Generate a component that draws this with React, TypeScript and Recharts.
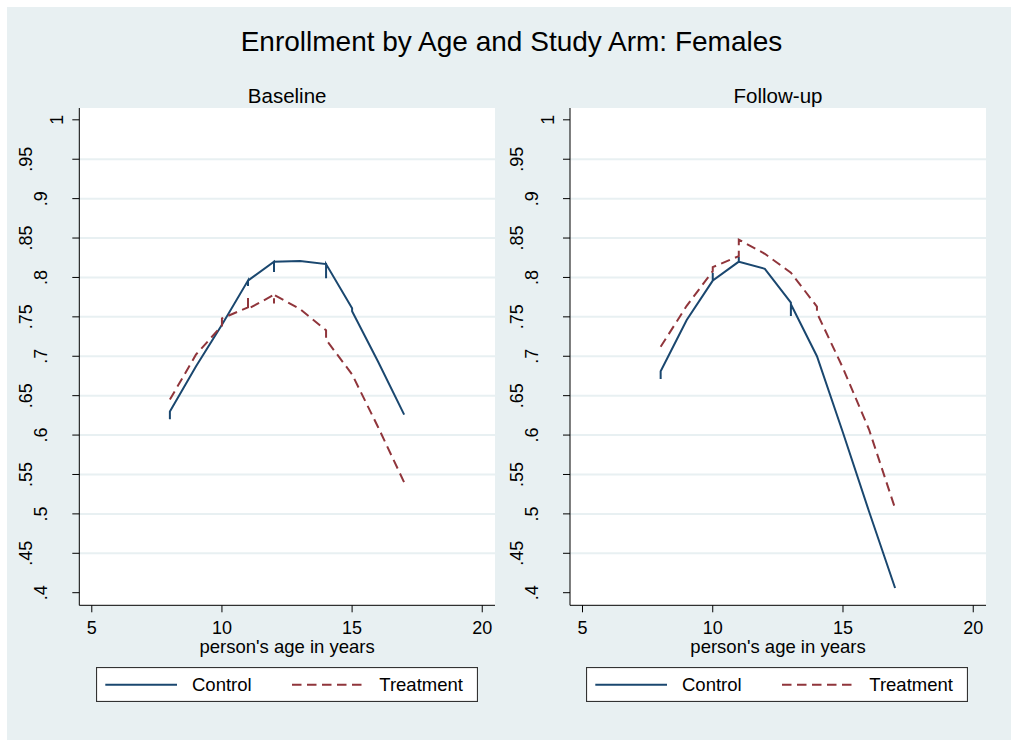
import { LineChart, Line, XAxis, YAxis, CartesianGrid } from "recharts"

const BG = "#E8F0F2"
const CONTROL = "#1A476F"
const TREATMENT = "#90353B"
const FONT = '"Liberation Sans", Arial, Helvetica, sans-serif'

const title = "Enrollment by Age and Study Arm: Females"
const panelTitles = ["Baseline", "Follow-up"]
const xLabel = "person's age in years"
const seriesNames = ["Control", "Treatment"]

const xTicks = [5, 10, 15, 20]
const yTicks = [0.4, 0.45, 0.5, 0.55, 0.6, 0.65, 0.7, 0.75, 0.8, 0.85, 0.9, 0.95, 1]
const gridValues = [0.45, 0.5, 0.55, 0.6, 0.65, 0.7, 0.75, 0.8, 0.85, 0.9, 0.95]

// baseline, several obs per age give the little vertical spikes
const baseControlAge = [8, 8, 9, 10, 11, 11, 11, 12, 12, 12, 13, 14, 14, 14, 15, 15, 16, 17]
const baseControlRate = [0.62, 0.63, 0.687, 0.74, 0.796, 0.789, 0.796, 0.82, 0.807, 0.82, 0.821, 0.817, 0.799, 0.817, 0.761, 0.757, 0.693, 0.626]
const baseTreatAge = [8, 9, 10, 10, 11, 11, 11, 12, 12, 12, 13, 14, 14, 15, 16, 17]
const baseTreatRate = [0.645, 0.702, 0.739, 0.748, 0.762, 0.774, 0.76, 0.778, 0.767, 0.778, 0.76, 0.733, 0.721, 0.677, 0.61, 0.54]

// follow-up
const followControlAge = [8, 8, 9, 10, 10, 10, 11, 11, 11, 12, 13, 13, 13, 14, 15, 16, 17]
const followControlRate = [0.671, 0.681, 0.746, 0.796, 0.806, 0.796, 0.82, 0.826, 0.82, 0.811, 0.768, 0.751, 0.766, 0.7, 0.603, 0.503, 0.406]
const followTreatAge = [8, 9, 10, 10, 11, 11, 12, 13, 14, 14, 15, 16, 17]
const followTreatRate = [0.712, 0.764, 0.808, 0.813, 0.827, 0.848, 0.83, 0.806, 0.763, 0.755, 0.685, 0.607, 0.507]

const pts = (ages: number[], rates: number[]) => ages.map((age, i) => ({ age, rate: rates[i] }))

const fmtY = (v: number) => (v === 1 ? "1" : v.toFixed(2).replace(/0+$/, "").replace(/^0/, ""))

const PANEL_W = 500
const PANEL_H = 733
const Y_AXIS_W = 60
const X_AXIS_H = 30
const TOP = 101
const BOTTOM = 104.7

function YTick(props: any) {
  const { y, payload, axisX } = props
  const label = fmtY(payload.value)
  const off = label.length === 1 ? 22.6 : label.length === 2 ? 38.8 : 53.6
  return (
    <text
      transform={`translate(${axisX - off},${y}) rotate(-90)`}
      x={0}
      y={6.4}
      textAnchor="middle"
      fontSize={18}
      fontFamily={FONT}
      fill="#000"
    >
      {label}
    </text>
  )
}

function XTick(props: any) {
  const { x, payload, axisY } = props
  return (
    <text x={x} y={axisY + 28.6} textAnchor="middle" fontSize={18} fontFamily={FONT} fill="#000">
      {payload.value}
    </text>
  )
}

function Legend({ left }: { left: number }) {
  return (
    <svg width={382} height={35} style={{ position: "absolute", left, top: 660.3 }}>
      <rect x={0.5} y={0.5} width={381} height={34} fill="#fff" stroke="#333" strokeWidth={1.2} />
      <line x1={9.3} x2={81} y1={17.7} y2={17.7} stroke={CONTROL} strokeWidth={2} />
      <text x={96} y={24.3} fontSize={18.5} fontFamily={FONT} fill="#000">{seriesNames[0]}</text>
      <line x1={196} x2={266} y1={17.7} y2={17.7} stroke={TREATMENT} strokeWidth={2} strokeDasharray="9.5 5.5" />
      <text x={283.3} y={24.3} fontSize={18.5} fontFamily={FONT} fill="#000">{seriesNames[1]}</text>
    </svg>
  )
}

type PanelProps = {
  x: number
  ml: number
  mr: number
  name: string
  control: { age: number; rate: number }[]
  treat: { age: number; rate: number }[]
}

function Panel({ x, ml, mr, name, control, treat }: PanelProps) {
  const plotLeft = ml + Y_AXIS_W
  const plotW = PANEL_W - plotLeft - mr
  const center = plotLeft + plotW / 2
  const axisY = PANEL_H - BOTTOM - X_AXIS_H
  return (
    <div style={{ position: "absolute", left: x, top: 0, width: PANEL_W, height: PANEL_H }}>
      <div
        style={{
          position: "absolute", left: center - 150, width: 300, top: 76.5, lineHeight: "24px",
          fontSize: 20.5, fontFamily: FONT, textAlign: "center", color: "#000",
        }}
      >
        {name}
      </div>
      <LineChart width={PANEL_W} height={PANEL_H} margin={{ top: TOP, right: mr, bottom: BOTTOM, left: ml }}>
        <CartesianGrid fill="#fff" vertical={false} horizontalValues={gridValues} stroke={BG} strokeWidth={2} />
        <XAxis
          type="number"
          dataKey="age"
          domain={[4.52, 20.49]}
          ticks={xTicks}
          allowDataOverflow
          height={X_AXIS_H}
          tickSize={7}
          axisLine={{ stroke: "#000" }}
          tickLine={{ stroke: "#000" }}
          tick={(p: any) => <XTick {...p} axisY={axisY} />}
        />
        <YAxis
          type="number"
          domain={[0.384, 1.015]}
          ticks={yTicks}
          allowDataOverflow
          width={Y_AXIS_W}
          tickSize={7}
          axisLine={{ stroke: "#000" }}
          tickLine={{ stroke: "#000" }}
          tick={(p: any) => <YTick {...p} axisX={plotLeft} />}
        />
        <Line data={control} dataKey="rate" stroke={CONTROL} strokeWidth={2} dot={false} isAnimationActive={false} />
        <Line
          data={treat}
          dataKey="rate"
          stroke={TREATMENT}
          strokeWidth={2}
          strokeDasharray="9.5 5.5"
          dot={false}
          isAnimationActive={false}
        />
      </LineChart>
      <div
        style={{
          position: "absolute", left: center - 150, width: 300, top: 632, lineHeight: "16px",
          fontSize: 18.5, fontFamily: FONT, textAlign: "center", color: "#000",
        }}
      >
        {xLabel}
      </div>
      <Legend left={plotLeft + 16.4} />
    </div>
  )
}

export default function App() {
  return (
    <div style={{ position: "absolute", left: 7, top: 7, width: 1004, height: 733, background: BG, overflow: "hidden" }}>
      <div
        style={{
          position: "absolute", left: 104.5, width: 800, top: 18.5, lineHeight: "32px",
          fontSize: 28, fontFamily: FONT, textAlign: "center", color: "#000",
        }}
      >
        {title}
      </div>
      <Panel
        x={0}
        ml={12.3}
        mr={12}
        name={panelTitles[0]}
        control={pts(baseControlAge, baseControlRate)}
        treat={pts(baseTreatAge, baseTreatRate)}
      />
      <Panel
        x={493}
        ml={10}
        mr={14}
        name={panelTitles[1]}
        control={pts(followControlAge, followControlRate)}
        treat={pts(followTreatAge, followTreatRate)}
      />
    </div>
  )
}
